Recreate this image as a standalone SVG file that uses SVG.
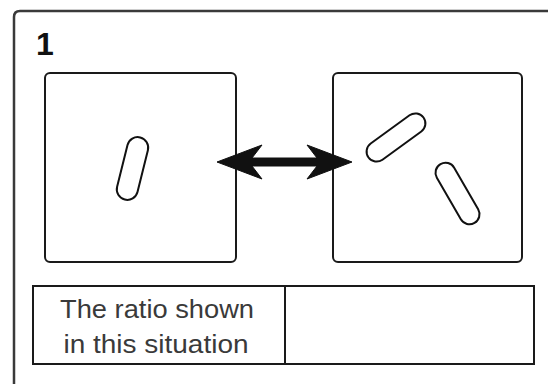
<svg xmlns="http://www.w3.org/2000/svg" width="548" height="384" viewBox="0 0 548 384">
<style>
.frame{fill:none;stroke:#3a3a3a;stroke-width:2.5}
.box{fill:#fff;stroke:#1a1a1a;stroke-width:2}
.cap{fill:#fff;stroke:#111;stroke-width:2}
.lbl{font-family:"Liberation Sans",Arial,sans-serif;font-size:25px;fill:#3a3a3a}
.num{font-family:"Liberation Sans",Arial,sans-serif;font-size:32px;font-weight:bold;fill:#111}
</style>
<rect width="548" height="384" fill="#fff"/>
<path class="frame" d="M14,386 L14,17 Q14,11 20,11 L550,11"/>
<text class="num" x="36" y="55">1</text>
<g id="left-box">
  <rect class="box" x="45" y="73" width="191" height="189" rx="5"/>
  <rect class="cap" x="122" y="136.5" width="21" height="64" rx="10.5" transform="rotate(14 132.5 168.5)"/>
</g>
<g id="right-box">
  <rect class="box" x="333" y="73" width="189" height="189" rx="5"/>
  <rect class="cap" x="362" y="127.5" width="68" height="20" rx="10" transform="rotate(-36 396 137.5)"/>
  <rect class="cap" x="423.5" y="183.5" width="68" height="20" rx="10" transform="rotate(60 457.5 193.5)"/>
</g>
<g id="connectors">
  <path d="M217,162 L262,145 L252,158 L317,158 L307,145 L352,162 L307,179 L317,166 L252,166 L262,179 Z" fill="#111" stroke="#111" stroke-width="1" stroke-linejoin="miter"/>
</g>
<g id="table">
  <rect class="box" x="33" y="286" width="501" height="78" fill="none"/>
  <line x1="285" y1="286" x2="285" y2="364" stroke="#1a1a1a" stroke-width="2"/>
  <text class="lbl" x="157" y="318" text-anchor="middle" textLength="194" lengthAdjust="spacingAndGlyphs">The ratio shown</text>
  <text class="lbl" x="156" y="353" text-anchor="middle" textLength="185" lengthAdjust="spacingAndGlyphs">in this situation</text>
</g>
</svg>
